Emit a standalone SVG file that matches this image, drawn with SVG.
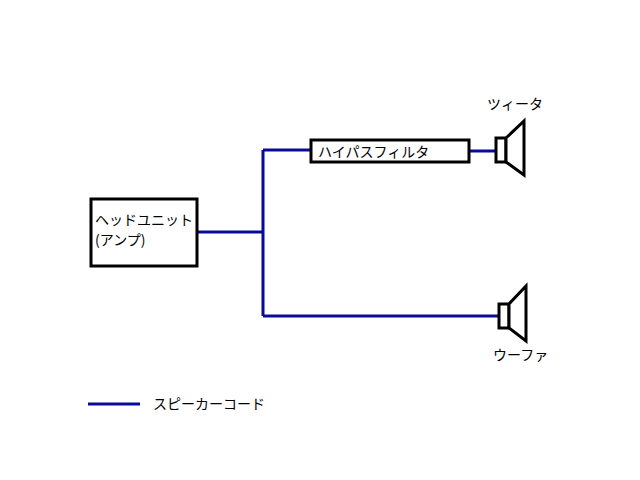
<svg xmlns="http://www.w3.org/2000/svg" width="640" height="480" viewBox="0 0 640 480">
<style>
.b{fill:#fff;stroke:#000;stroke-width:3}
.w{stroke:#0a0a9a;stroke-width:3;fill:none}
text{font-family:"Noto Sans CJK JP",sans-serif;font-size:14px;fill:#000}
</style>
<rect width="640" height="480" fill="#fff"/>
<g id="connectors">
<path class="w" d="M197 232H263M263 150V316M263 150H311M469 151H497M263 316H499"/>
</g>
<g id="headunit"><rect class="b" x="91" y="199" width="106" height="67"/><text x="95" y="225">ヘッドユニット</text><text x="95" y="245">(アンプ)</text></g>
<g id="filter"><rect class="b" x="311" y="140" width="158" height="22"/><text x="318" y="157">ハイパスフィルタ</text></g>
<g id="tweeter"><rect class="b" x="496" y="138" width="10" height="24"/><path class="b" d="M506 138L524 121V175L506 162Z"/><text x="487" y="109">ツィータ</text></g>
<g id="woofer"><rect class="b" x="499" y="304" width="10" height="24"/><path class="b" d="M509 304L526 286V341L509 328Z"/><text x="493" y="360">ウーファ</text></g>
<g id="legend"><path class="w" d="M88 404H140"/><text x="153" y="409">スピーカーコード</text></g>
</svg>
